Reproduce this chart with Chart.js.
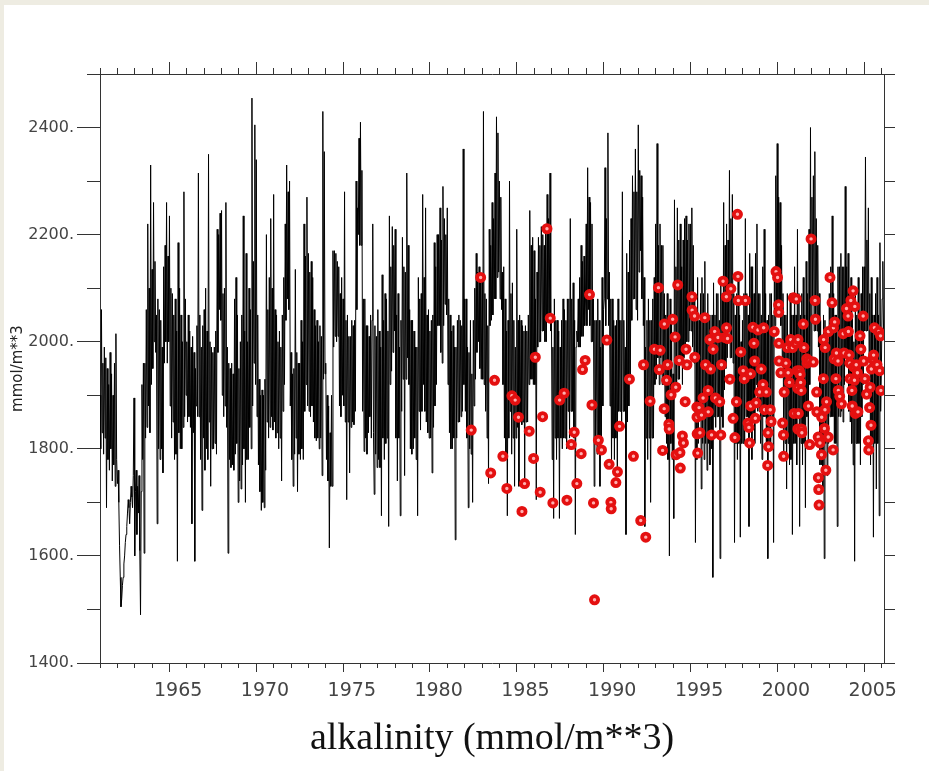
<!DOCTYPE html>
<html>
<head>
<meta charset="utf-8">
<script src="https://cdn.jsdelivr.net/npm/chart.js@4.4.1/dist/chart.umd.min.js"></script>
<style>
  html, body { margin: 0; padding: 0; background: #eeece2; overflow: hidden; }
  canvas { display: block; }
</style>
</head>
<body>
<canvas id="alkChart" width="929" height="771"></canvas>
<script>
// model alkalinity, two values per month starting Jan 1961 (mmol/m**3)
const alk1960s = [
  1900, 1800, 2060, 1830, 1960, 1790, 1990, 1820, 1970, 1690, 1950, 1780, 1920, 1760, 1980, 1800, 1940, 1740, 1900, 1770, 1960, 1730, 2015, 1780, // 1961
  1735, 1760, 1700, 1620, 1560, 1505, 1520, 1545, 1560, 1585, 1600, 1625, 1640, 1655, 1680, 1705, 1690, 1660, 1700, 1730, 1710, 1690, 1750, 1895, // 1962
  1600, 1720, 1760, 1640, 1730, 1680, 1750, 1610, 1490, 1720, 1920, 1780, 1960, 1605, 1960, 1820, 2060, 1840, 2220, 1880, 2100, 1830, 2330, 1920, // 1963
  2135, 1950, 2260, 2000, 2150, 1980, 2050, 1660, 2080, 1800, 2060, 1780, 2040, 1800, 1990, 1755, 2140, 1960, 2180, 2000, 2260, 1960, 2160, 2000, // 1964
  2235, 1880, 2100, 1820, 2090, 1850, 2050, 1780, 2080, 1790, 2020, 1590, 2185, 1830, 2100, 1800, 2050, 1800, 2000, 1840, 2280, 1860, 2080, 1900, // 1965
  2000, 1850, 2050, 1860, 2020, 1840, 1990, 1660, 2010, 1830, 1980, 1590, 1950, 1880, 2030, 1860, 2315, 1860, 2050, 1780, 1990, 1685, 2030, 1820, // 1966
  2060, 1760, 2100, 1800, 2020, 1780, 2350, 1850, 2000, 1730, 1990, 1800, 1980, 1800, 1990, 1810, 2020, 1790, 2210, 1980, 2200, 2060, 2240, 2040, // 1967
  2245, 1900, 2090, 1860, 2100, 1880, 2260, 1840, 1990, 1605, 1960, 1780, 1950, 1765, 1960, 1770, 1940, 1760, 2080, 1790, 2120, 1810, 2050, 1700, // 1968
  1950, 1740, 2000, 1725, 2050, 1770, 2235, 1800, 2020, 1700, 2165, 1780, 2000, 1780, 2100, 1840, 2060, 1800, 2455, 1880, 2150, 1960, 2405, 1920  // 1969
];
const alk1970s = [
  2340, 1860, 2050, 1770, 1930, 1720, 1900, 1685, 1910, 1700, 1900, 1690, 1930, 1760, 2200, 1850, 2060, 1820, 2120, 1840, 2230, 1860, 2100, 1835, // 1970
  2275, 1850, 2060, 1820, 2050, 1830, 2000, 1800, 2020, 1820, 1990, 1740, 2050, 1870, 2120, 1920, 2220, 2040, 2330, 2080, 2280, 2060, 2300, 1880, // 1971
  1980, 1780, 1940, 1730, 1950, 1790, 2135, 1820, 1980, 1720, 1960, 1790, 1960, 1780, 2040, 1800, 2000, 1780, 2220, 1870, 2160, 1920, 2270, 1880, // 1972
  2165, 1870, 2130, 1860, 2150, 1880, 2120, 1850, 2060, 1820, 2030, 1815, 2040, 1820, 2000, 1800, 2030, 1820, 2010, 1750, 2430, 1930, 2355, 1940, // 1973
  1960, 1780, 1900, 1740, 1880, 1615, 1830, 1730, 1900, 1730, 2170, 1990, 2170, 2010, 2165, 2000, 2150, 2010, 2140, 1880, 2090, 1860, 2120, 1900, // 1974
  2080, 1880, 2280, 1850, 2040, 1705, 2050, 1850, 2010, 1755, 2010, 1840, 2040, 1850, 2030, 1845, 2040, 1870, 2300, 2060, 2250, 2200, 2380, 2180, // 1975
  2410, 2180, 2320, 1870, 2080, 1795, 2080, 1820, 2030, 1790, 2030, 1830, 2010, 1860, 2050, 1820, 2040, 2220, 1830, 1715, 2030, 1790, 2010, 1765, // 1976
  2060, 1780, 2020, 1765, 1990, 1675, 2125, 1820, 2040, 1780, 2090, 1810, 2080, 1820, 2020, 1655, 2235, 1920, 2140, 1945, 2215, 1980, 2180, 2020, // 1977
  2210, 1820, 2050, 1740, 2090, 1820, 1990, 1675, 2040, 1870, 2195, 1930, 2140, 1750, 2130, 1930, 2315, 1970, 2180, 1920, 2060, 1800, 2040, 1790, // 1978
  2040, 1800, 2020, 1820, 1990, 1780, 1990, 1675, 2120, 1870, 2080, 1835, 2090, 1870, 2275, 1920, 2120, 1870, 2250, 1850, 2050, 1830, 2060, 1820  // 1979
];
const alk1980s = [
  2020, 1820, 2040, 1755, 2050, 1840, 2185, 1880, 2140, 1920, 2200, 2030, 2200, 2030, 2250, 1980, 2190, 1960, 2290, 2030, 2230, 2070, 2200, 2050, // 1980
  2250, 1920, 2080, 1830, 2050, 1800, 2020, 1800, 2030, 1820, 1990, 1630, 1990, 1820, 2040, 1850, 2050, 1850, 2040, 1860, 2030, 1870, 2360, 1920, // 1981
  2080, 1870, 2080, 1820, 1990, 1690, 1980, 1800, 2040, 1790, 1940, 1700, 2040, 1880, 2100, 1930, 2165, 1980, 2130, 2000, 2140, 1950, 2110, 1930, // 1982
  2120, 1930, 2430, 1920, 2090, 1870, 2080, 1820, 2030, 1735, 2210, 2030, 2180, 2040, 2260, 2050, 2230, 2080, 2315, 2080, 2420, 2120, 2390, 2130, // 1983
  2300, 2080, 2270, 2060, 2130, 1920, 2140, 1820, 2080, 1790, 2020, 1675, 2040, 1820, 2300, 1870, 2090, 1790, 2110, 1820, 2040, 1730, 1990, 1820, // 1984
  2210, 1840, 2040, 1730, 2050, 1850, 2040, 1845, 2030, 1850, 2020, 1735, 2030, 1850, 2020, 1850, 2050, 1920, 2245, 1930, 2180, 1930, 2195, 1920, // 1985
  2170, 1920, 2080, 1705, 2130, 1990, 2195, 2000, 2180, 2000, 2215, 2020, 2200, 2020, 2180, 2000, 2220, 2000, 2275, 2050, 2230, 2050, 2315, 2020, // 1986
  2040, 1780, 1990, 1670, 2080, 1820, 2040, 1780, 2040, 1820, 2020, 1670, 1990, 1820, 2040, 1800, 2080, 1820, 2060, 1820, 2040, 1800, 2080, 1870, // 1987
  2080, 1820, 2230, 1870, 2080, 1870, 2110, 1820, 2040, 1640, 1990, 2020, 2000, 2080, 1990, 2120, 1990, 2180, 2010, 2150, 2010, 2160, 2030, 2080, // 1988
  2220, 2030, 2325, 2060, 2270, 2030, 2260, 2000, 2220, 2000, 2080, 1730, 2040, 1820, 2040, 1790, 2080, 1820, 2040, 1730, 1990, 1820, 2120, 1880  // 1989
];
const alk1990s = [
  2060, 2080, 2325, 2030, 2230, 2080, 2390, 2030, 2130, 1880, 2080, 1765, 2080, 1820, 2040, 1780, 2030, 1820, 2040, 1765, 2080, 1870, 2040, 1870, // 1990
  2040, 1850, 2280, 1870, 2040, 1870, 1990, 1640, 2165, 1850, 2130, 1880, 2190, 1930, 2230, 2040, 2310, 2080, 2280, 2080, 2360, 2060, 2280, 2040, // 1991
  2405, 2130, 2320, 2170, 2310, 2080, 2270, 2030, 2120, 1655, 1990, 1820, 2040, 1780, 2080, 1820, 2040, 1700, 2040, 1820, 2080, 1820, 2120, 1920, // 1992
  2220, 1930, 2370, 1970, 2180, 1920, 2220, 1970, 2180, 1920, 2180, 1920, 2090, 1860, 2050, 1810, 2090, 1780, 2030, 1600, 2080, 1810, 2040, 1780, // 1993
  1940, 1670, 2265, 1920, 2140, 1920, 2250, 1930, 2190, 1930, 2220, 1970, 2140, 1920, 2190, 1970, 2230, 1990, 2235, 2000, 2190, 2000, 2220, 2020, // 1994
  2220, 2020, 2250, 1990, 2180, 1960, 2090, 1625, 2040, 1780, 2120, 1810, 2040, 1860, 2090, 1725, 2120, 1810, 2090, 1780, 2150, 1810, 2050, 1760, // 1995
  2090, 1810, 2050, 1770, 2000, 1800, 2050, 1560, 2110, 1860, 2050, 1840, 2090, 1860, 2090, 1860, 2040, 1595, 2120, 1860, 2090, 1840, 2260, 1910, // 1996
  2180, 1950, 2220, 1970, 2190, 2020, 2320, 1970, 2230, 1970, 2275, 1960, 2090, 1625, 2050, 1810, 2090, 1780, 2120, 1810, 2050, 1635, 2000, 1810, // 1997
  2040, 1810, 2090, 1810, 2230, 1860, 2090, 1860, 2050, 1655, 2165, 1860, 2140, 1780, 2140, 1860, 2090, 1810, 2165, 1920, 2220, 1870, 2090, 1870, // 1998
  2090, 1810, 2050, 1780, 2140, 1860, 2210, 1860, 2090, 1810, 2040, 1595, 2050, 1810, 2090, 1810, 2090, 1860, 2050, 1625, 2140, 2030, 2310, 2070  // 1999
];
const alk2000s = [
  2370, 2070, 2270, 2070, 2260, 2030, 2180, 1970, 2090, 1780, 2050, 1810, 2050, 1725, 2090, 1810, 2000, 1770, 2090, 1780, 2050, 1640, 2050, 1810, // 2000
  2140, 1810, 2050, 1770, 2210, 1860, 2090, 1655, 2050, 1810, 2090, 1770, 2120, 1810, 2050, 1690, 2150, 1860, 2090, 1810, 2210, 1920, 2400, 1970, // 2001
  2270, 2070, 2310, 2020, 2355, 2020, 2230, 2020, 2180, 1990, 2090, 1770, 2040, 1770, 2000, 1725, 2050, 1595, 2040, 1810, 2000, 1750, 2000, 1810, // 2002
  2090, 1860, 2140, 1860, 2235, 1860, 2090, 1810, 2050, 1810, 2050, 1655, 2140, 1860, 2140, 1860, 2165, 1870, 2140, 1850, 2140, 1920, 2290, 1970, // 2003
  2140, 1970, 2165, 1870, 2090, 1850, 2120, 1810, 2050, 1770, 2000, 1590, 2090, 1810, 2050, 1810, 2120, 1810, 2050, 1770, 2090, 1860, 2140, 1920, // 2004
  2140, 2020, 2345, 2020, 2190, 2020, 2250, 1970, 2090, 1770, 2120, 1810, 2050, 1635, 2050, 1810, 2090, 1725, 2120, 1810, 2050, 1675, 2185, 1870, // 2005
  1950, 2080, 2150, 2020                                                                                                                           // 2006
];

// observations (decimal year, mmol/m**3)
const obsTime = [
  1982.38, 1982.92, 1983.50, 1983.72, 1984.20, 1984.43, 1984.72, 1984.91, 1985.10, 1985.30,
  1985.45, 1985.72, 1985.97, 1986.07, 1986.35, 1986.49, 1986.74, 1986.93, 1987.08, 1987.47,
  1987.73, 1987.89, 1988.14, 1988.31, 1988.46, 1988.71, 1988.79, 1988.94, 1989.19, 1989.33,
  1989.42, 1989.48, 1989.70, 1989.88, 1990.19, 1990.32, 1990.42, 1990.44, 1990.71, 1990.80,
  1990.92, 1991.49, 1991.72, 1992.14, 1992.30, 1992.43, 1992.68, 1992.93, 1993.16, 1993.21,
  1993.26, 1993.40, 1993.49, 1993.50, 1993.63, 1993.69, 1993.76, 1993.78, 1993.89, 1993.98,
  1994.12, 1994.16, 1994.18, 1994.27, 1994.36, 1994.40, 1994.42, 1994.54, 1994.60, 1994.70,
  1994.75, 1994.80, 1995.09, 1995.10, 1995.24, 1995.25, 1995.37, 1995.38, 1995.39, 1995.42,
  1995.50, 1995.55, 1995.64, 1995.73, 1995.83, 1995.87, 1996.02, 1996.03, 1996.12, 1996.16,
  1996.22, 1996.31, 1996.40, 1996.44, 1996.59, 1996.69, 1996.75, 1996.79, 1996.88, 1996.98,
  1997.07, 1997.08, 1997.14, 1997.27, 1997.33, 1997.46, 1997.56, 1997.65, 1997.71, 1997.74,
  1997.76, 1997.90, 1998.04, 1998.10, 1998.17, 1998.32, 1998.37, 1998.41, 1998.46, 1998.47,
  1998.60, 1998.66, 1998.70, 1998.74, 1998.79, 1998.89, 1998.99, 1999.08, 1999.18, 1999.22,
  1999.27, 1999.37, 1999.45, 1999.47, 1999.50, 1999.60, 1999.65, 1999.83, 1999.93, 2000.02,
  2000.08, 2000.09, 2000.10, 2000.11, 2000.21, 2000.31, 2000.36, 2000.37, 2000.40, 2000.50,
  2000.59, 2000.63, 2000.70, 2000.78, 2000.88, 2000.93, 2000.97, 2001.07, 2001.10, 2001.16,
  2001.18, 2001.19, 2001.20, 2001.22, 2001.28, 2001.32, 2001.35, 2001.38, 2001.40, 2001.42,
  2001.50, 2001.54, 2001.70, 2001.72, 2001.80, 2001.86, 2001.87, 2001.95, 2002.08, 2002.18,
  2002.20, 2002.27, 2002.28, 2002.36, 2002.37, 2002.39, 2002.41, 2002.46, 2002.55, 2002.56,
  2002.66, 2002.67, 2002.72, 2002.75, 2002.76, 2002.80, 2002.84, 2002.94, 2002.95, 2003.04,
  2003.16, 2003.22, 2003.24, 2003.28, 2003.31, 2003.38, 2003.41, 2003.50, 2003.52, 2003.60,
  2003.70, 2003.80, 2003.85, 2003.99, 2004.08, 2004.10, 2004.14, 2004.18, 2004.20, 2004.24,
  2004.30, 2004.32, 2004.37, 2004.40, 2004.45, 2004.47, 2004.50, 2004.55, 2004.62, 2004.65,
  2004.77, 2004.82, 2004.95, 2004.98, 2005.05, 2005.15, 2005.25, 2005.27, 2005.32, 2005.35,
  2005.40, 2005.42, 2005.50, 2005.55, 2005.60, 2005.75, 2005.85, 2005.90, 2005.95, 2005.97
];
const obsAlk = [
  1835, 2120, 1755, 1928, 1786, 1726, 1899, 1891, 1859, 1683,
  1735, 1833, 1782, 1971, 1719, 1860, 2211, 2044, 1699, 1891,
  1904, 1704, 1808, 1831, 1735, 1791, 1948, 1965, 2088, 1882,
  1699, 1518, 1816, 1798, 2003, 1771, 1700, 1688, 1737, 1757,
  1842, 1930, 1786, 1666, 1957, 1635, 1889, 1986, 2101, 1948,
  1984, 1797, 1875, 2033, 1928, 1957, 1846, 1837, 1901, 2042,
  2009, 1915, 1789, 2106, 1965, 1793, 1764, 1824, 1811, 1888,
  1986, 1957, 2084, 2059, 2048, 1971, 1878, 1859, 1828, 1792,
  1877, 1830, 1863, 1895, 2045, 1957, 1909, 1869, 2004, 1949,
  1826, 1986, 2019, 1895, 2008, 1888, 1826, 1957, 2113, 2008,
  2084, 2026, 2006, 1930, 2099, 1857, 1821, 1888, 2238, 2122,
  2077, 1981, 1946, 1931, 2077, 1848, 1840, 1811, 1940, 1880,
  2027, 1997, 1964, 1857, 1886, 2022, 1906, 1949, 1920, 2026,
  1873, 1906, 1769, 1830, 1804, 1873, 1851, 2019, 2131, 2120,
  2069, 2055, 1997, 1964, 1942, 1848, 1826, 1786, 1906, 1960,
  1989, 1942, 1924, 2004, 1989, 2082, 1866, 1997, 2080, 1946,
  1913, 1837, 2004, 1866, 1946, 1939, 1924, 1909, 1837, 1830,
  2033, 1989, 1968, 1960, 1880, 1964, 1808, 2192, 1962, 2077,
  2042, 1906, 1869, 1822, 1746, 1724, 1695, 1811, 1789, 1859,
  1931, 2004, 1838, 1873, 1989, 1760, 1888, 1822, 2019, 2120,
  2073, 1798, 2026, 1968, 2037, 1931, 1979, 1964, 1909, 1898,
  1884, 2015, 1979, 2062, 2048, 2019, 1975, 1960, 1931, 2077,
  1909, 1880, 2095, 1953, 1928, 2066, 1866, 1957, 1942, 1869,
  2011, 1986, 2048, 1964, 1931, 1902, 1815, 1798, 1877, 1915,
  1844, 1949, 1968, 1975, 2026, 1957, 2019, 1946, 2011, 1909
];

// axis ticks
const yearTicks = [1961, 1962, 1963, 1964, 1965, 1966, 1967, 1968, 1969, 1970,
  1971, 1972, 1973, 1974, 1975, 1976, 1977, 1978, 1979, 1980, 1981, 1982, 1983,
  1984, 1985, 1986, 1987, 1988, 1989, 1990, 1991, 1992, 1993, 1994, 1995, 1996,
  1997, 1998, 1999, 2000, 2001, 2002, 2003, 2004, 2005, 2006];
const yearLabels = [1965, 1970, 1975, 1980, 1985, 1990, 1995, 2000, 2005];
const alkTicks = [1400, 1500, 1600, 1700, 1800, 1900, 2000, 2100, 2200, 2300, 2400, 2500];
const alkLabels = [1400, 1600, 1800, 2000, 2200, 2400];

const startYear = 1961;
const modelAlk = [].concat(alk1960s, alk1970s, alk1980s, alk1990s, alk2000s);
const modelPoints = modelAlk.map((v, i) => ({ x: startYear + i / 24, y: v }));
const obsPoints = obsTime.map((t, i) => ({ x: t, y: obsAlk[i] }));

const frame = '#333';
const xMin = 1961, xMax = 2006.15;

// tick-only axes (extra tick lengths for major/minor marks)
function tickAxis(pos, weight, ticks, len, size, horizontal) {
  return {
    type: 'linear', position: pos, weight: weight,
    min: horizontal ? xMin : 1400, max: horizontal ? xMax : 2500,
    afterBuildTicks: s => { s.ticks = ticks.map(v => ({ value: v })); },
    afterFit: s => { if (horizontal) s.height = size; else s.width = size; },
    grid: { drawOnChartArea: false, tickLength: len, tickColor: frame, tickWidth: 1 },
    border: { display: false },
    ticks: { display: false }
  };
}

const paper = {
  id: 'paper',
  beforeDraw(chart) {
    const c = chart.ctx;
    c.save();
    c.fillStyle = '#eeece2';
    c.fillRect(0, 0, chart.width, chart.height);
    c.fillStyle = '#ffffff';
    c.fillRect(4, 5, chart.width - 4, chart.height - 5);
    c.restore();
  }
};

new Chart(document.getElementById('alkChart').getContext('2d'), {
  type: 'line',
  data: {
    datasets: [{
      label: 'observed',
      data: obsPoints,
      showLine: false,
      pointRadius: 3.6,
      pointBorderWidth: 3.8,
      pointBorderColor: '#e41010',
      pointBackgroundColor: '#ffb0b0',
      xAxisID: 'x', yAxisID: 'y'
    }, {
      label: 'model',
      data: modelPoints,
      borderColor: '#000',
      borderWidth: 1,
      pointRadius: 0,
      tension: 0,
      fill: false,
      xAxisID: 'x', yAxisID: 'y'
    }]
  },
  options: {
    responsive: false,
    animation: false,
    events: [],
    devicePixelRatio: 1,
    layout: { padding: { left: 0, right: 34, top: 54, bottom: 0 } },
    plugins: { legend: { display: false }, tooltip: { enabled: false } },
    scales: {
      x: {
        type: 'linear', position: 'bottom', weight: 1, min: xMin, max: xMax,
        afterBuildTicks: s => { s.ticks = yearTicks.map(v => ({ value: v })); },
        afterFit: s => { s.height = 108; },
        grid: { drawOnChartArea: false, tickLength: 5, tickColor: frame },
        border: { color: frame, width: 1 },
        ticks: {
          autoSkip: false, maxRotation: 0, padding: 12, labelOffset: 8.7,
          color: '#444', font: { family: 'DejaVu Sans', size: 19 },
          callback: v => yearLabels.includes(v) ? String(v) : ''
        },
        title: {
          display: true, text: 'alkalinity (mmol/m**3)', color: '#111',
          font: { family: 'Liberation Serif', size: 38 },
          padding: { top: 0, bottom: 9 }
        }
      },
      xMajor: tickAxis('bottom', 0, yearLabels, 9, 0, true),
      xTop: Object.assign(tickAxis('top', 1, yearTicks, 6, 20, true), { border: { color: frame, width: 1 } }),
      xTopMajor: tickAxis('top', 0, yearLabels, 12, 0, true),
      y: {
        type: 'linear', position: 'left', weight: 1, min: 1400, max: 2500,
        afterBuildTicks: s => { s.ticks = alkTicks.map(v => ({ value: v })); },
        afterFit: s => { s.width = 100; },
        grid: { drawOnChartArea: false, tickLength: 13, tickColor: frame },
        border: { color: frame, width: 1 },
        ticks: {
          padding: 13, color: '#444', font: { family: 'DejaVu Sans', size: 16 },
          callback: v => alkLabels.includes(v) ? v + '.' : ''
        },
        title: {
          display: true, text: 'mmol/m**3', color: '#222',
          font: { family: 'DejaVu Sans', size: 15 }, padding: { top: 9, bottom: 0 }
        }
      },
      yMajor: tickAxis('left', 0, alkLabels, 23, 0, false),
      yRight: Object.assign(tickAxis('right', 1, alkTicks, 11, 11, false), { border: { color: frame, width: 1 } })
    }
  },
  plugins: [paper]
});
</script>
</body>
</html>
